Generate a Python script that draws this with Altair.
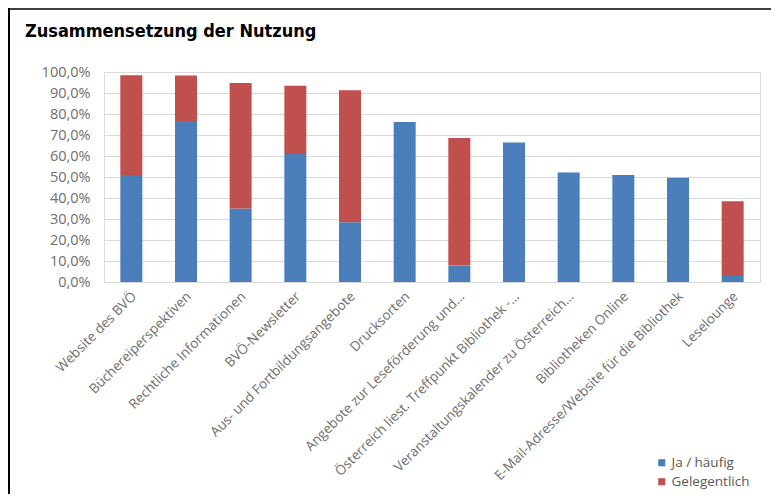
import altair as alt
import pandas as pd

categories = [
    "Website des BVÖ",
    "Büchereiperspektiven",
    "Rechtliche Informationen",
    "BVÖ-Newsletter",
    "Aus- und Fortbildungsangebote",
    "Drucksorten",
    "Angebote zur Leseförderung und…",
    "Österreich liest. Treffpunkt Bibliothek -…",
    "Veranstaltungskalender zu Österreich…",
    "Bibliotheken Online",
    "E-Mail-Adresse/Website für die Bibliothek",
    "Leselounge",
]
ja_haeufig = [0.509, 0.767, 0.350, 0.609, 0.284, 0.762, 0.078, 0.664, 0.522, 0.509, 0.496, 0.029]
gelegentlich = [0.475, 0.216, 0.598, 0.325, 0.629, 0.0, 0.608, 0.0, 0.0, 0.0, 0.0, 0.356]
series = ["Ja / häufig", "Gelegentlich"]
colors = ["#4A7EBB", "#C0504D"]
y_ticks = [0.0, 0.1, 0.2, 0.3, 0.4, 0.5, 0.6, 0.7, 0.8, 0.9, 1.0]
title_text = "Zusammensetzung der Nutzung"

rows = []
for c, a, b in zip(categories, ja_haeufig, gelegentlich):
    rows.append({"Kategorie": c, "Serie": series[0], "Wert": a, "idx": 0})
    rows.append({"Kategorie": c, "Serie": series[1], "Wert": b, "idx": 1})
df = pd.DataFrame(rows)

bars = alt.Chart(df).mark_bar(size=22).encode(
    x=alt.X("Kategorie:N", sort=categories, title=None,
            scale=alt.Scale(paddingInner=0.6, paddingOuter=0.3),
            axis=alt.Axis(labelAngle=-45, labelAlign="right", labelBaseline="middle",
                          labelFont="Open Sans", labelFontSize=13.5, labelColor="#6E6E6E",
                          ticks=False, domainColor="#D9D9D9", labelPadding=12,
                          labelOffset=3, labelLimit=400)),
    y=alt.Y("Wert:Q", stack="zero", title=None,
            scale=alt.Scale(domain=[0, 1], nice=False),
            axis=alt.Axis(values=y_ticks, labelExpr="replace(format(datum.value, '.1%'), '.', ',')",
                          labelFont="Open Sans", labelFontSize=14.5, labelColor="#6E6E6E",
                          ticks=False, domain=False, gridColor="#D9D9D9", labelPadding=14)),
    color=alt.Color("Serie:N", scale=alt.Scale(domain=series, range=colors),
                    legend=alt.Legend(title=None, orient="none", legendX=551, legendY=384,
                                      symbolType="square", symbolSize=50, labelFontSize=13.5,
                                      labelFont="Open Sans", labelColor="#595959",
                                      rowPadding=4, labelOffset=3, symbolStrokeWidth=0)),
    order=alt.Order("idx:Q"),
)

one = alt.Data(values=[{"t": title_text}])
title = alt.Chart(one).mark_text(
    align="left", baseline="alphabetic", fontSize=18,
    font="DejaVu Sans Condensed",
    fontWeight="bold", color="#000000"
).encode(text="t:N", x=alt.value(-79), y=alt.value(-35))

top_line = alt.Chart(one).mark_rule(color="#000000", strokeWidth=1.5).encode(
    x=alt.value(-96), x2=alt.value(667), y=alt.value(-63))
left_line = alt.Chart(one).mark_rule(color="#000000", strokeWidth=2).encode(
    x=alt.value(-95), y=alt.value(-64), y2=alt.value(422))

chart = alt.layer(bars, title, top_line, left_line).properties(
    width=656, height=210,
    padding={"left": 96, "top": 64, "right": 11, "bottom": 212},
    autosize=alt.AutoSizeParams(type="none"),
).configure_view(stroke=None).configure(background="white")

chart.save("out.html", embed_options={"renderer": "svg", "actions": False})
